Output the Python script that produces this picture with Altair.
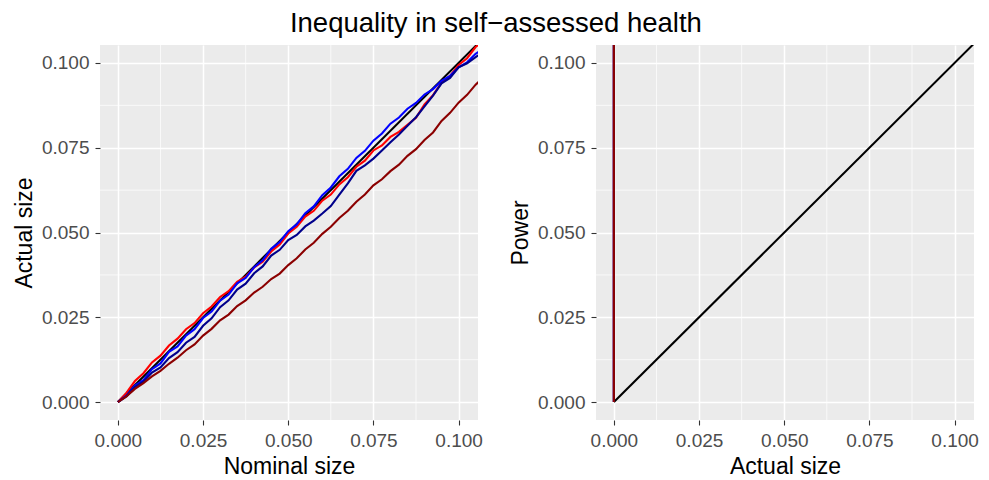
import altair as alt
import pandas as pd

# ---------------- data ----------------
nominal = [0.0, 0.0025, 0.005, 0.0075, 0.01, 0.0125, 0.015, 0.0175, 0.02, 0.0225,
           0.025, 0.0275, 0.03, 0.0325, 0.035, 0.0375, 0.04, 0.0425, 0.045, 0.0475,
           0.05, 0.0525, 0.055, 0.0575, 0.06, 0.0625, 0.065, 0.0675, 0.07, 0.0725,
           0.075, 0.0775, 0.08, 0.0825, 0.085, 0.0875, 0.09, 0.0925, 0.095, 0.0975,
           0.1, 0.1025, 0.105, 0.1075, 0.11]

size_red = [0.0, 0.0027, 0.0062, 0.0085, 0.0117, 0.0137, 0.0167, 0.0187, 0.0215, 0.0233,
            0.0262, 0.0282, 0.031, 0.0327, 0.0355, 0.037, 0.0397, 0.0414, 0.0444, 0.0465,
            0.0497, 0.0517, 0.0547, 0.0564, 0.0594, 0.0612, 0.0642, 0.0663, 0.0694, 0.0712,
            0.0742, 0.0757, 0.0782, 0.0797, 0.0818, 0.0838, 0.0878, 0.0905, 0.0942, 0.0962,
            0.0994, 0.1014, 0.1047, 0.1067, 0.1099]

size_blue = [0.0, 0.0019, 0.0049, 0.0065, 0.0097, 0.0114, 0.0148, 0.0164, 0.0196, 0.0215,
             0.0248, 0.0267, 0.0299, 0.0317, 0.035, 0.0366, 0.0398, 0.0418, 0.0452, 0.0472,
             0.0504, 0.0524, 0.0557, 0.0577, 0.061, 0.0633, 0.0666, 0.0688, 0.072, 0.0741,
             0.0771, 0.0792, 0.0821, 0.0839, 0.0865, 0.0882, 0.0907, 0.0923, 0.0947, 0.0962,
             0.0987, 0.1002, 0.1027, 0.1043, 0.1072]

size_navy = [0.0, 0.0017, 0.0044, 0.006, 0.0087, 0.0102, 0.013, 0.0147, 0.0175, 0.0192,
             0.0225, 0.0247, 0.028, 0.03, 0.0332, 0.0349, 0.038, 0.04, 0.0432, 0.0449,
             0.0478, 0.0493, 0.0518, 0.0535, 0.0556, 0.0578, 0.0612, 0.0645, 0.0682, 0.0698,
             0.0718, 0.0742, 0.0766, 0.0789, 0.0815, 0.084, 0.0872, 0.0904, 0.094, 0.0956,
             0.0987, 0.0999, 0.1017, 0.1034, 0.1062]

size_darkred = [0.0, 0.0017, 0.0039, 0.0056, 0.0076, 0.0092, 0.0113, 0.0131, 0.0153, 0.017,
                0.0196, 0.0216, 0.0241, 0.0258, 0.0283, 0.03, 0.0323, 0.034, 0.0363, 0.0379,
                0.0404, 0.0424, 0.045, 0.047, 0.0496, 0.0517, 0.0543, 0.0564, 0.0591, 0.0612,
                0.0639, 0.0657, 0.0681, 0.07, 0.0726, 0.0746, 0.0773, 0.0795, 0.0829, 0.0853,
                0.0883, 0.0906, 0.0936, 0.0959, 0.0988]

# power against actual size (power is ~1 everywhere)
power_size = [0.0, 0.0, 0.11]
power_red = [0.0, 0.99, 1.0]
power_blue = [0.0, 0.99, 1.0]
power_navy = [0.0, 0.99, 1.0]
power_darkred = [0.0, 0.99, 1.0]

diag = [0.0, 0.11]
major_ticks = [0.0, 0.025, 0.05, 0.075, 0.1]
minor_ticks = [0.0125, 0.0375, 0.0625, 0.0875]

series_colors = {"red": "#FF0000", "blue": "#0000FF", "navy": "#00008B", "darkred": "#8B0000"}

# ---------------- chart ----------------
W, H = 378, 375
XDOM = [-0.00525, 0.1057]
YDOM = [-0.00528, 0.1053]


def xenc(title):
    return alt.X("x:Q", title=title,
                 scale=alt.Scale(domain=XDOM, nice=False, zero=False),
                 axis=alt.Axis(values=major_ticks, format=".3f"))


def yenc(title):
    return alt.Y("y:Q", title=title,
                 scale=alt.Scale(domain=YDOM, nice=False, zero=False),
                 axis=alt.Axis(values=major_ticks, format=".3f"))


def panel(lines, xtitle, ytitle):
    minor_x = alt.Chart(pd.DataFrame({"x": minor_ticks})).mark_rule(
        color="white", strokeWidth=0.7).encode(x=xenc(xtitle))
    minor_y = alt.Chart(pd.DataFrame({"y": minor_ticks})).mark_rule(
        color="white", strokeWidth=0.7).encode(y=yenc(ytitle))
    layers = [minor_x, minor_y]
    for xs, ys, col in lines:
        df = pd.DataFrame({"x": xs, "y": ys, "o": list(range(len(xs)))})
        layers.append(
            alt.Chart(df).mark_line(color=col, strokeWidth=2.1, clip=True).encode(
                x=xenc(xtitle), y=yenc(ytitle), order="o:Q")
        )
    return alt.layer(*layers).properties(width=W, height=H)


left = panel(
    [(diag, diag, "black"),
     (nominal, size_red, series_colors["red"]),
     (nominal, size_blue, series_colors["blue"]),
     (nominal, size_navy, series_colors["navy"]),
     (nominal, size_darkred, series_colors["darkred"])],
    "Nominal size", "Actual size")

right = panel(
    [(diag, diag, "black"),
     (power_size, power_red, series_colors["red"]),
     (power_size, power_blue, series_colors["blue"]),
     (power_size, power_navy, series_colors["navy"]),
     (power_size, power_darkred, series_colors["darkred"])],
    "Actual size", "Power")

chart = alt.hconcat(left, right, spacing=26).properties(
    title=alt.TitleParams("Inequality in self\u2212assessed health", anchor="middle",
                          fontSize=27.5, font="Liberation Sans", fontWeight="normal",
                          color="black", offset=7)
).configure(
    padding={"left": 5, "top": 2, "right": 0, "bottom": 0},
    background="white"
).configure_view(
    fill="#EBEBEB", stroke=None
).configure_axis(
    domain=False, grid=True, gridColor="white", gridWidth=1.5,
    tickColor="#333333", tickSize=5, tickWidth=1.1,
    labelColor="#4D4D4D", labelFontSize=19, labelFont="Liberation Sans", labelPadding=6,
    titleFont="Liberation Sans", titleFontSize=23, titleFontWeight="normal",
    titleColor="black", titlePadding=5
)

chart.save("out.html", embed_options={"renderer": "svg", "actions": False})
